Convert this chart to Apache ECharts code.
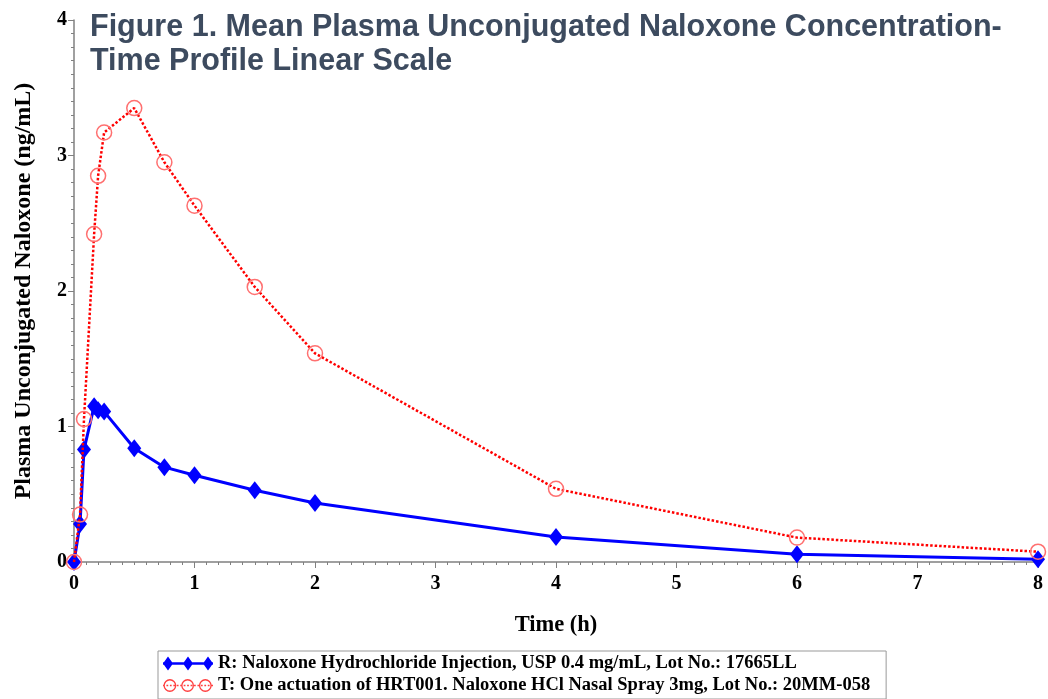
<!DOCTYPE html>
<html>
<head>
<meta charset="utf-8">
<script src="https://cdn.jsdelivr.net/npm/echarts@6/dist/echarts.min.js"></script>
<style>
  html, body { margin: 0; padding: 0; background: #fff; }
  #chart { width: 1048px; height: 699px; }
</style>
</head>
<body>
<div id="chart"></div>
<script>
// sampling times (h)
const times = [0, 0.05, 0.083, 0.167, 0.2, 0.25, 0.5, 0.75, 1, 1.5, 2, 4, 6, 8];
// R: injection, mean conc (ng/mL)
const refConc = [0, 0.28, 0.83, 1.15, 1.12, 1.11, 0.84, 0.70, 0.64, 0.53, 0.435, 0.185, 0.057, 0.02];
// T: nasal spray, mean conc (ng/mL)
const testConc = [0, 0.35, 1.055, 2.42, 2.85, 3.17, 3.35, 2.95, 2.63, 2.03, 1.54, 0.54, 0.18, 0.076];

const refName = 'R: Naloxone Hydrochloride Injection, USP 0.4 mg/mL, Lot No.: 17665LL';
const testName = 'T: One actuation of HRT001. Naloxone HCl Nasal Spray 3mg, Lot No.: 20MM-058';

const serif = 'Liberation Serif';
const axisGray = '#808080';

function pairs(xs, ys) {
	return xs.map((x, i) => [x, ys[i]]);
}

// legend icons: a line with three markers on it (icon box 50 x 14)
function diamondIcon() {
	let p = 'path://M0,5.8L50,5.8L50,8.2L0,8.2Z';
	[5, 25, 45].forEach(c => {
		p += 'M' + c + ',0L' + (c + 5) + ',7L' + c + ',14L' + (c - 5) + ',7Z';
	});
	return p;
}
function ringIcon() {
	let p = 'path://M0,0L0.01,0Z';
	for (let x = 0; x < 50; x += 3.5) {
		p += 'M' + x + ',6.2L' + (x + 1.8) + ',6.2L' + (x + 1.8) + ',7.8L' + x + ',7.8Z';
	}
	[7, 25, 43].forEach(c => {
		p += 'M' + (c - 6.5) + ',7A6.5,6.5 0 1 1 ' + (c + 6.5) + ',7A6.5,6.5 0 1 1 ' + (c - 6.5) + ',7Z';
		p += 'M' + (c - 5.2) + ',7A5.2,5.2 0 1 0 ' + (c + 5.2) + ',7A5.2,5.2 0 1 0 ' + (c - 5.2) + ',7Z';
	});
	p += 'M49.99,14L50,14Z';
	return p;
}

let chart = echarts.init(document.getElementById('chart'));

let option = {
	animation: false,
	title: {
		text: 'Figure 1. Mean Plasma Unconjugated Naloxone Concentration-\nTime Profile Linear Scale',
		left: 85,
		top: 6,
		textStyle: {
			fontFamily: 'Liberation Sans',
			fontWeight: 'bold',
			fontSize: 30.5,
			lineHeight: 34,
			color: '#3d4b5f'
		}
	},
	grid: {
		left: 74,
		right: 10,
		top: 20,
		bottom: 137
	},
	legend: {
		orient: 'vertical',
		left: 158,
		top: 651,
		padding: [3, 16, 4, 5],
		itemGap: 3,
		itemWidth: 50,
		itemHeight: 14,
		borderColor: '#999',
		borderWidth: 1,
		borderRadius: 0,
		textStyle: {
			fontFamily: serif,
			fontWeight: 'bold',
			fontSize: 18.5,
			color: '#000'
		},
		data: [
			{ name: refName, icon: diamondIcon(), itemStyle: { color: '#0000ff', borderWidth: 0 } },
			{ name: testName, icon: ringIcon(), itemStyle: { color: '#ff4040', borderWidth: 0 } }
		]
	},
	xAxis: {
		type: 'value',
		min: 0,
		max: 8,
		interval: 1,
		name: 'Time (h)',
		nameLocation: 'middle',
		nameGap: 52,
		nameTextStyle: {
			fontFamily: serif,
			fontWeight: 'bold',
			fontSize: 22.5,
			color: '#000'
		},
		axisLine: { lineStyle: { color: axisGray, width: 1.5 } },
		axisTick: { inside: false, length: 6, lineStyle: { color: axisGray } },
		minorTick: { show: true, splitNumber: 10, length: 3, lineStyle: { color: axisGray } },
		splitLine: { show: false },
		axisLabel: {
			fontFamily: serif,
			fontWeight: 'bold',
			fontSize: 20,
			color: '#000',
			margin: 12
		}
	},
	yAxis: {
		type: 'value',
		min: 0,
		max: 4,
		interval: 1,
		name: 'Plasma Unconjugated Naloxone (ng/mL)',
		nameLocation: 'middle',
		nameGap: 38,
		nameRotate: 90,
		nameTextStyle: {
			fontFamily: serif,
			fontWeight: 'bold',
			fontSize: 24,
			color: '#000'
		},
		axisLine: { show: true, lineStyle: { color: axisGray, width: 1.5 } },
		axisTick: { show: true, inside: false, length: 6, lineStyle: { color: axisGray } },
		minorTick: { show: true, splitNumber: 10, length: 3, lineStyle: { color: axisGray } },
		splitLine: { show: false },
		axisLabel: {
			fontFamily: serif,
			fontWeight: 'bold',
			fontSize: 20,
			color: '#000',
			margin: 7
		}
	},
	series: [
		{
			name: refName,
			type: 'line',
			data: pairs(times, refConc),
			clip: false,
			symbol: 'diamond',
			symbolSize: [14, 18],
			color: '#0000ff',
			lineStyle: { color: '#0000ff', width: 3 },
			itemStyle: { color: '#0000ff' },
			z: 2
		},
		{
			name: testName,
			type: 'line',
			data: pairs(times, testConc),
			clip: false,
			symbol: 'circle',
			symbolSize: 15,
			color: '#ff0000',
			lineStyle: { color: '#ff0000', width: 2.5, type: [2.5, 2] },
			itemStyle: { color: 'rgba(255,255,255,0)', borderColor: '#ff7070', borderWidth: 1.5 },
			z: 3
		}
	]
};

chart.setOption(option);
</script>
</body>
</html>
